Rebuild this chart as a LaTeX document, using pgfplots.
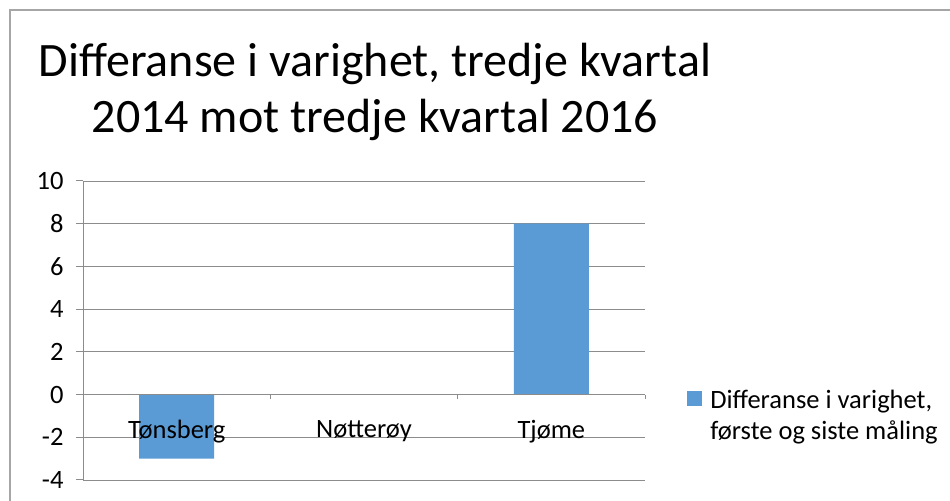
\documentclass[border=0pt]{standalone}
\usepackage{fontspec}
\setmainfont{Carlito}
\usepackage{pgfplots}
\pgfplotsset{compat=1.18}
\definecolor{barblue}{HTML}{5B9BD5}
\definecolor{gridgray}{HTML}{8C8C8C}
\definecolor{framegray}{HTML}{A6A6A6}
\pgfplotsset{
  common/.style={
    at={(83bp,21bp)}, anchor=south west,
    scale only axis, width=562bp, height=299bp,
    xmin=-0.5, xmax=2.5, ymin=-4, ymax=10,
    clip=false,
  },
}
\begin{document}
\begin{tikzpicture}[x=1bp,y=1bp]
\useasboundingbox (0,0) rectangle (950,501);
\fill[white] (0,0) rectangle (950,501);
\draw[framegray, line width=1.2bp] (10,0) -- (10,491) -- (950,491);
\node[anchor=base, font=\fontsize{48bp}{56bp}\selectfont, inner sep=0pt] at (375,424) {Differanse i varighet, tredje kvartal};
\node[anchor=base, font=\fontsize{48bp}{56bp}\selectfont, inner sep=0pt] at (375,368) {2014 mot tredje kvartal 2016};
% grid and bars
\begin{axis}[
  common,
  axis line style={draw=none},
  xtick=\empty,
  ytick={-4,-2,0,2,4,6,8,10},
  yticklabels={},
  major tick length=0pt,
  ymajorgrids,
  grid style={gridgray, line width=0.8bp},
  ybar, bar width=75bp,
]
\addplot[fill=barblue, draw=none] coordinates {(0,-3) (1,0) (2,8)};
\end{axis}
% axis lines, ticks, labels, legend on top
\begin{axis}[
  common,
  axis y line=left, axis x line=middle,
  axis line style={gridgray, line width=1bp, -},
  x axis line style={-},
  y axis line style={-},
  ytick={-4,-2,0,2,4,6,8,10},
  yticklabels={-4,-2,0,2,4,6,8,10},
  xtick={0,1,2},
  xticklabels={Tønsberg,Nøtterøy,Tjøme},
  minor xtick={0.5,1.5,2.5},
  major x tick style={draw=none},
  minor x tick style={gridgray, line width=1bp},
  y tick style={gridgray, line width=1bp},
  tick align=outside,
  major tick length=7bp,
  minor tick length=4bp,
  ticklabel style={font=\fontsize{26.5bp}{31bp}\selectfont},
  yticklabel style={xshift=-9bp},
  xticklabel style={yshift=-15bp},
  legend style={draw=none, fill=none, at={(1.075,0.308)}, anchor=north west,
    font=\fontsize{26.5bp}{31bp}\selectfont, cells={align=left, anchor=west},
    inner sep=0pt},
  legend image code/.code={\fill[barblue, draw=none] (0bp,10bp) rectangle (15bp,25bp);
    \path[draw=none, fill=none] (15bp,17bp) -- (21bp,17bp);},
]
\addlegendimage{fill=barblue}
\addlegendentry{Differanse i varighet,\\første og siste måling}
\end{axis}
\end{tikzpicture}
\end{document}
